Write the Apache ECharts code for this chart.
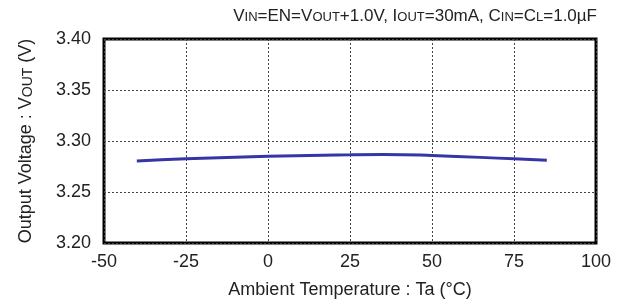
<!DOCTYPE html>
<html>
<head>
<meta charset="utf-8">
<script src="https://cdn.jsdelivr.net/npm/echarts@6/dist/echarts.min.js"></script>
<style>
    html, body { margin: 0; padding: 0; background: #fff; }
    #container { width: 622px; height: 307px; }
</style>
</head>
<body>
<div id="container"></div>
<script>
// ambient temperature (°C) and output voltage (V)
var temps = [-40, -25, 0, 25, 35, 50, 75, 85];
var vout = [3.2805, 3.2825, 3.2850, 3.2865, 3.2868, 3.2858, 3.2825, 3.2812];
var xTicks = [-50, 100, 25];
var yTicks = [3.20, 3.40, 0.05];

var myChart = echarts.init(document.getElementById('container'));
var font = 'Liberation Sans, Arial, sans-serif';
var data = [];
for (var i = 0; i < temps.length; i++) {
    data.push([temps[i], vout[i]]);
}
var sub = { fontSize: 13, fontFamily: font, color: '#222', verticalAlign: 'bottom', padding: [0, 0, 1, 0] };
var option = {
    animation: false,
    title: {
        right: 20,
        top: 3,
        text: 'V{s|IN}=EN=V{s|OUT}+1.0V, I{s|OUT}=30mA, C{s|IN}=C{s|L}=1.0µF',
        textStyle: {
            fontFamily: font,
            fontSize: 17,
            fontWeight: 'normal',
            color: '#222',
            rich: { s: sub }
        }
    },
    grid: {
        left: 104,
        right: 26,
        top: 39,
        bottom: 64,
        show: true,
        borderColor: '#000',
        borderWidth: 3
    },
    xAxis: {
        type: 'value',
        min: xTicks[0],
        max: xTicks[1],
        interval: xTicks[2],
        name: 'Ambient Temperature : Ta (°C)',
        nameLocation: 'middle',
        nameGap: 38,
        nameTextStyle: { fontFamily: font, fontSize: 18, color: '#222' },
        axisLine: { show: false },
        axisTick: { show: false },
        axisLabel: { fontFamily: font, fontSize: 18, color: '#222', margin: 10 },
        splitLine: { lineStyle: { color: '#444', type: [2, 2], width: 1 } }
    },
    yAxis: {
        type: 'value',
        min: yTicks[0],
        max: yTicks[1],
        interval: yTicks[2],
        name: 'Output Voltage : V{s|OUT} (V)',
        nameLocation: 'middle',
        nameGap: 69,
        nameTextStyle: {
            fontFamily: font, fontSize: 18, color: '#222',
            rich: { s: { fontSize: 14, fontFamily: font, color: '#222', verticalAlign: 'bottom' } }
        },
        axisLine: { show: false },
        axisTick: { show: false },
        axisLabel: {
            fontFamily: font, fontSize: 18, color: '#222', margin: 13,
            formatter: function (v) { return v.toFixed(2); }
        },
        splitLine: { lineStyle: { color: '#444', type: [2, 2], width: 1 } }
    },
    series: [
        {
            type: 'line',
            data: data,
            smooth: true,
            symbol: 'none',
            lineStyle: { color: '#3535a5', width: 3 }
        }
    ]
};
myChart.setOption(option);
</script>
</body>
</html>
